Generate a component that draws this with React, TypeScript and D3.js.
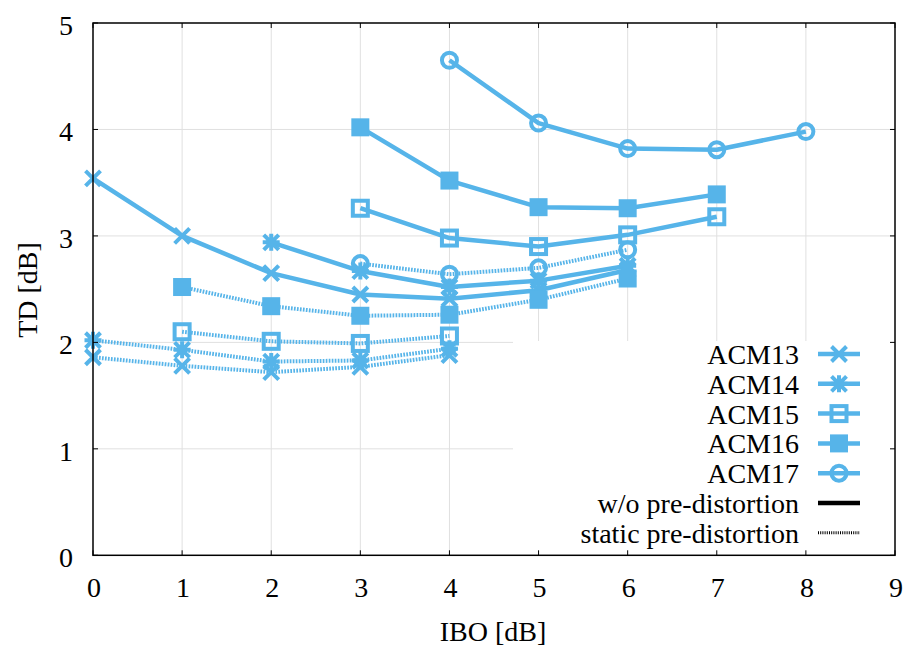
import React from "react";
import * as d3 from "d3";

const W = 909;
const H = 648;
const COLOR = "#56B4E9";

const seriesNames = ["ACM13", "ACM14", "ACM15", "ACM16", "ACM17"];
const markerTypes = ["x", "star", "square", "filled", "circle"];

// w/o pre-distortion (solid)
const solidX = [
  [0, 1, 2, 3, 4, 5, 6],
  [2, 3, 4, 5, 6],
  [3, 4, 5, 6, 7],
  [3, 4, 5, 6, 7],
  [4, 5, 6, 7, 8],
];
const solidY = [
  [3.54, 3.0, 2.65, 2.45, 2.41, 2.49, 2.68],
  [2.94, 2.67, 2.52, 2.58, 2.72],
  [3.26, 2.98, 2.9, 3.01, 3.18],
  [4.02, 3.52, 3.27, 3.26, 3.39],
  [4.65, 4.06, 3.82, 3.81, 3.98],
];
// static pre-distortion (dotted)
const dotX = [
  [0, 1, 2, 3, 4],
  [0, 1, 2, 3, 4],
  [1, 2, 3, 4],
  [1, 2, 3, 4, 5, 6],
  [3, 4, 5, 6],
];
const dotY = [
  [1.86, 1.78, 1.72, 1.77, 1.88],
  [2.02, 1.93, 1.82, 1.83, 1.94],
  [2.1, 2.01, 1.99, 2.06],
  [2.52, 2.34, 2.25, 2.26, 2.4, 2.6],
  [2.74, 2.64, 2.7, 2.87],
];

const xTicks = [0, 1, 2, 3, 4, 5, 6, 7, 8, 9];
const yTicks = [0, 1, 2, 3, 4, 5];
const styleLabels = ["w/o pre-distortion", "static pre-distortion"];

const L = 93, R = 895, T = 23, B = 555.3;
const x = d3.scaleLinear().domain([0, 9]).range([L, R]);
const y = d3.scaleLinear().domain([0, 5]).range([B, T]);
const FONT = "Liberation Serif, DejaVu Serif, serif";
const FS = 28;
const LW = 4.5;
const MW = 4;
const DOT = "1.7 1.3";

function Marker({ type, cx, cy }: { type: string; cx: number; cy: number }) {
  const s = 7.5;
  if (type === "x") {
    return (
      <path
        d={`M${cx - s},${cy - s}L${cx + s},${cy + s}M${cx - s},${cy + s}L${cx + s},${cy - s}`}
        stroke={COLOR}
        strokeWidth={MW}
        fill="none"
      />
    );
  }
  if (type === "star") {
    return (
      <path
        d={`M${cx - s},${cy - s}L${cx + s},${cy + s}M${cx - s},${cy + s}L${cx + s},${cy - s}M${cx},${cy - s - 1}L${cx},${cy + s + 1}M${cx - s - 1},${cy}L${cx + s + 1},${cy}`}
        stroke={COLOR}
        strokeWidth={MW}
        fill="none"
      />
    );
  }
  if (type === "square") {
    return (
      <rect x={cx - 7.5} y={cy - 7.5} width={15} height={15} stroke={COLOR} strokeWidth={MW} fill="none" />
    );
  }
  if (type === "filled") {
    return <rect x={cx - 9} y={cy - 9} width={18} height={18} fill={COLOR} />;
  }
  return <circle cx={cx} cy={cy} r={7.5} stroke={COLOR} strokeWidth={MW} fill="none" />;
}

export default function App() {
  const line = d3
    .line<[number, number]>()
    .x((d) => x(d[0]))
    .y((d) => y(d[1]));

  const legendTextX = 799;
  const legendRow0 = 354;
  const legendStep = 29.8;
  const sampleX0 = 818;
  const sampleX1 = 860;

  return (
    <svg width={W} height={H} style={{ position: "absolute", left: 0, top: 0, background: "#fff" }}>
      <rect x={0} y={0} width={W} height={H} fill="#fff" />
      {/* grid */}
      {xTicks.slice(1, -1).map((t) => (
        <line key={"gx" + t} x1={x(t)} x2={x(t)} y1={T} y2={B} stroke="#e0e0e0" strokeWidth={1} />
      ))}
      {yTicks.slice(1, -1).map((t) => (
        <line key={"gy" + t} x1={L} x2={R} y1={y(t)} y2={y(t)} stroke="#e0e0e0" strokeWidth={1} />
      ))}
      {/* legend background */}
      <rect x={513} y={341} width={R - 513} height={B - 341} fill="#fff" />
      {/* data solid */}
      {seriesNames.map((n, i) => {
        const pts = solidX[i].map((v, j) => [v, solidY[i][j]] as [number, number]);
        return (
          <g key={"s" + n}>
            <path d={line(pts) || ""} stroke={COLOR} strokeWidth={LW} fill="none" strokeLinejoin="round" />
            {pts.map((p, j) => (
              <Marker key={j} type={markerTypes[i]} cx={x(p[0])} cy={y(p[1])} />
            ))}
          </g>
        );
      })}
      {seriesNames.map((n, i) => {
        const pts = dotX[i].map((v, j) => [v, dotY[i][j]] as [number, number]);
        return (
          <g key={"d" + n}>
            <path d={line(pts) || ""} stroke={COLOR} strokeWidth={4} fill="none" strokeDasharray={DOT} />
            {pts.map((p, j) => (
              <Marker key={j} type={markerTypes[i]} cx={x(p[0])} cy={y(p[1])} />
            ))}
          </g>
        );
      })}
      {/* frame */}
      <rect x={L} y={T} width={R - L} height={B - T} fill="none" stroke="#000" strokeWidth={1.5} />
      {/* ticks */}
      {xTicks.map((t) => (
        <g key={"tx" + t}>
          <line x1={x(t)} x2={x(t)} y1={B} y2={B - 5} stroke="#000" strokeWidth={1} />
          <line x1={x(t)} x2={x(t)} y1={T} y2={T + 5} stroke="#000" strokeWidth={1} />
          <text x={x(t) + 1} y={B + 42} textAnchor="middle" fontFamily={FONT} fontSize={FS} fill="#000">
            {t}
          </text>
        </g>
      ))}
      {yTicks.map((t) => (
        <g key={"ty" + t}>
          <line x1={L} x2={L + 5} y1={y(t)} y2={y(t)} stroke="#000" strokeWidth={1} />
          <line x1={R} x2={R - 5} y1={y(t)} y2={y(t)} stroke="#000" strokeWidth={1} />
          <text x={73} y={y(t) + 12} textAnchor="end" fontFamily={FONT} fontSize={FS} fill="#000">
            {t}
          </text>
        </g>
      ))}
      {/* axis labels */}
      <text x={493} y={641} textAnchor="middle" fontFamily={FONT} fontSize={FS} fill="#000">
        IBO [dB]
      </text>
      <text
        transform={`translate(37,290) rotate(-90)`}
        textAnchor="middle"
        fontFamily={FONT}
        fontSize={FS}
        fill="#000"
      >
        TD [dB]
      </text>
      {/* legend */}
      {seriesNames.map((n, i) => {
        const cy = legendRow0 + i * legendStep;
        return (
          <g key={"l" + n}>
            <text x={legendTextX} y={cy + 10} textAnchor="end" fontFamily={FONT} fontSize={FS} fill="#000">
              {n}
            </text>
            <line x1={sampleX0} x2={sampleX1} y1={cy} y2={cy} stroke={COLOR} strokeWidth={LW} />
            <Marker type={markerTypes[i]} cx={(sampleX0 + sampleX1) / 2} cy={cy} />
          </g>
        );
      })}
      {styleLabels.map((n, i) => {
        const cy = legendRow0 + (i + 5) * legendStep;
        return (
          <g key={"ls" + i}>
            <text x={legendTextX} y={cy + 10} textAnchor="end" fontFamily={FONT} fontSize={FS} fill="#000">
              {n}
            </text>
            <line
              x1={sampleX0}
              x2={sampleX1}
              y1={cy}
              y2={cy}
              stroke="#000"
              strokeWidth={i === 0 ? LW : 3}
              strokeDasharray={i === 0 ? undefined : "1 1.2"}
            />
          </g>
        );
      })}
    </svg>
  );
}
